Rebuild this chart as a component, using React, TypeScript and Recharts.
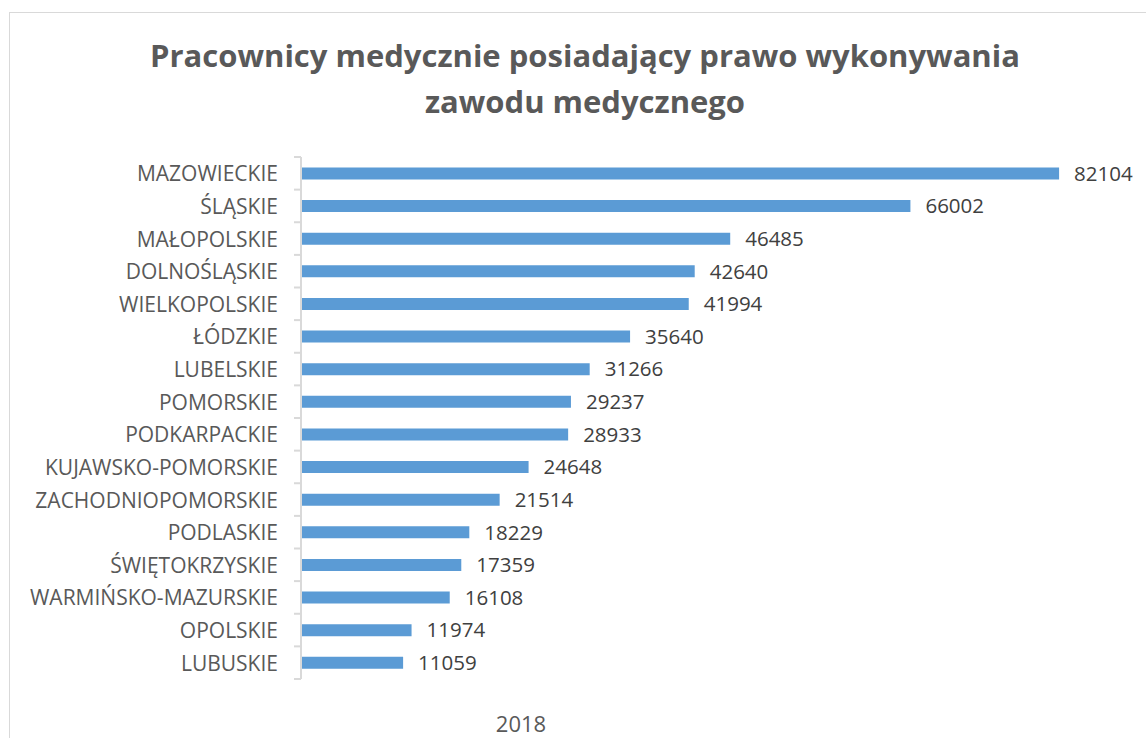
import React from "react";
import { BarChart, Bar, XAxis, YAxis, LabelList } from "recharts";

const categories = [
  "MAZOWIECKIE",
  "ŚLĄSKIE",
  "MAŁOPOLSKIE",
  "DOLNOŚLĄSKIE",
  "WIELKOPOLSKIE",
  "ŁÓDZKIE",
  "LUBELSKIE",
  "POMORSKIE",
  "PODKARPACKIE",
  "KUJAWSKO-POMORSKIE",
  "ZACHODNIOPOMORSKIE",
  "PODLASKIE",
  "ŚWIĘTOKRZYSKIE",
  "WARMIŃSKO-MAZURSKIE",
  "OPOLSKIE",
  "LUBUSKIE",
];
const values2018 = [
  82104, 66002, 46485, 42640, 41994, 35640, 31266, 29237, 28933, 24648, 21514,
  18229, 17359, 16108, 11974, 11059,
];
const titleLines = [
  "Pracownicy medycznie posiadający prawo wykonywania",
  "zawodu medycznego",
];
const seriesName = "2018";

const data = categories.map((c, i) => ({ name: c, value: values2018[i] }));

const W = 1146;
const H = 738;
const M = { top: 157, right: 14, bottom: 59, left: 1 };
const AXIS_W = 300;
const FONT = "'Open Sans', 'Noto Sans', sans-serif";

const band = (H - M.top - M.bottom) / categories.length;

const CatTick = (props: any) => {
  const { x, y, payload, index } = props;
  const half = band / 2;
  return (
    <g>
      <text
        x={x - 15}
        y={y}
        textAnchor="end"
        dominantBaseline="central"
        fontFamily={FONT}
        fontSize={21}
        fill="#595959"
      >
        {payload.value}
      </text>
      <line x1={x + 1} x2={x + 8} y1={y - half} y2={y - half} stroke="#d9d9d9" strokeWidth={2} />
      {index === categories.length - 1 && (
        <line x1={x + 1} x2={x + 8} y1={y + half} y2={y + half} stroke="#d9d9d9" strokeWidth={2} />
      )}
    </g>
  );
};

export default function App() {
  return (
    <div style={{ position: "absolute", left: 0, top: 0, width: W, height: H, background: "#fff", overflow: "hidden" }}>
      <div
        style={{
          position: "absolute",
          left: 9,
          top: 12,
          width: W,
          height: H,
          border: "1px solid #d9d9d9",
          boxSizing: "border-box",
        }}
      />
      <div
        style={{
          position: "absolute",
          left: 16,
          width: 1138,
          top: 32,
          textAlign: "center",
          fontFamily: FONT,
          fontWeight: 700,
          fontSize: 31,
          lineHeight: "46px",
          color: "#595959",
        }}
      >
        {titleLines.map((t, i) => (
          <div key={i}>{t}</div>
        ))}
      </div>
      <div style={{ position: "absolute", left: 0, top: 0 }}>
        <BarChart width={W} height={H} data={data} layout="vertical" margin={M} barCategoryGap="32%">
          <XAxis type="number" hide domain={[0, 90000]} />
          <YAxis
            type="category"
            dataKey="name"
            width={AXIS_W}
            axisLine={{ stroke: "#d9d9d9", strokeWidth: 2 }}
            tickLine={false}
            tick={<CatTick />}
            interval={0}
          />
          <Bar dataKey="value" fill="#5b9bd5" isAnimationActive={false}>
            <LabelList
              dataKey="value"
              position="right"
              offset={15}
              fontFamily={FONT}
              fontSize={20.5}
              fill="#404040"
            />
          </Bar>
        </BarChart>
      </div>
      <div
        style={{
          position: "absolute",
          left: 471,
          width: 100,
          top: 708,
          textAlign: "center",
          fontFamily: FONT,
          fontSize: 22,
          color: "#595959",
        }}
      >
        {seriesName}
      </div>
    </div>
  );
}
